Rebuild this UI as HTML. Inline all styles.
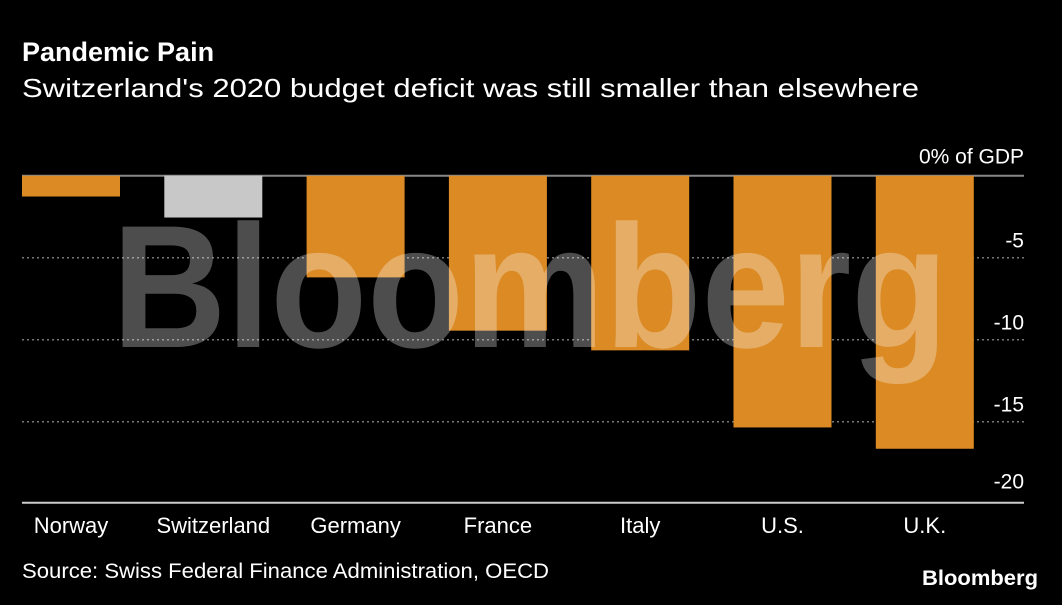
<!DOCTYPE html>
<html><head><meta charset="utf-8"><style>
body{margin:0;background:#000;width:1062px;height:600px;overflow:hidden;font-family:"Liberation Sans",sans-serif;color:#fff}
</style></head><body>
<svg width="1062" height="600" xmlns="http://www.w3.org/2000/svg">
<rect width="1062" height="600" fill="#000"/>
<text x="22" y="61" font-size="27" font-weight="bold" fill="#fff">Pandemic Pain</text>
<text x="22" y="97" font-size="26" fill="#fff" textLength="897" lengthAdjust="spacingAndGlyphs">Switzerland's 2020 budget deficit was still smaller than elsewhere</text>
<g id="grid"></g>
<g id="bars"></g>
<text x="530" y="347" font-size="175" font-weight="bold" fill="#fff" fill-opacity="0.3" text-anchor="middle" textLength="836" lengthAdjust="spacingAndGlyphs">Bloomberg</text>
<g id="labels"></g>
<text x="22" y="578" font-size="21" fill="#fff" textLength="527" lengthAdjust="spacingAndGlyphs">Source: Swiss Federal Finance Administration, OECD</text>
<text x="1038" y="585" font-size="21" font-weight="bold" fill="#fff" text-anchor="end" textLength="116" lengthAdjust="spacingAndGlyphs">Bloomberg</text>
</svg>
<script>
const categories=["Norway","Switzerland","Germany","France","Italy","U.S.","U.K."];
const values=[-1.27,-2.55,-6.2,-9.45,-10.65,-15.35,-16.65];
const highlight=[false,true,false,false,false,false,false];
const ticks=[0,-5,-10,-15,-20];
const tickLabels=["0% of GDP","-5","-10","-15","-20"];
const NS="http://www.w3.org/2000/svg";
const y=v=>175.7-v*16.4;
const x=i=>22+i*142.3;
const bw=98;
function mk(t,a,p){const e=document.createElementNS(NS,t);for(const k in a)e.setAttribute(k,a[k]);p.appendChild(e);return e;}
const grid=document.getElementById('grid');
ticks.forEach((t,i)=>{
  const yy=y(t);
  let ln;
  if(t===0||t===-20){ln=mk('line',{x1:22,x2:1024,y1:t===-20?502.7:yy,y2:t===-20?502.7:yy,stroke:t===0?'#888':'#ccc','stroke-width':2},grid);}
  else{ln=mk('line',{x1:22,x2:1024,y1:yy,y2:yy,stroke:'#777','stroke-width':1.5,'stroke-dasharray':'2,3'},grid);}
  
  
  const tx=mk('text',{x:1024,y:t===0?yy-12:(t===-20?yy-15:yy-10),'font-size':21,fill:'#fff','text-anchor':'end'},grid);
  tx.textContent=tickLabels[i];
  
  
});
const bars=document.getElementById('bars'),labels=document.getElementById('labels');
values.forEach((v,i)=>{
  const r=mk('rect',{x:x(i),y:y(0),width:bw,height:y(v)-y(0),fill:highlight[i]?'#c8c8c8':'#db8a24'},bars);
  
  
  const t=mk('text',{x:x(i)+bw/2,y:533,'font-size':22,fill:'#fff','text-anchor':'middle'},labels);
  t.textContent=categories[i];
  
  
});
</script>
</body></html>
